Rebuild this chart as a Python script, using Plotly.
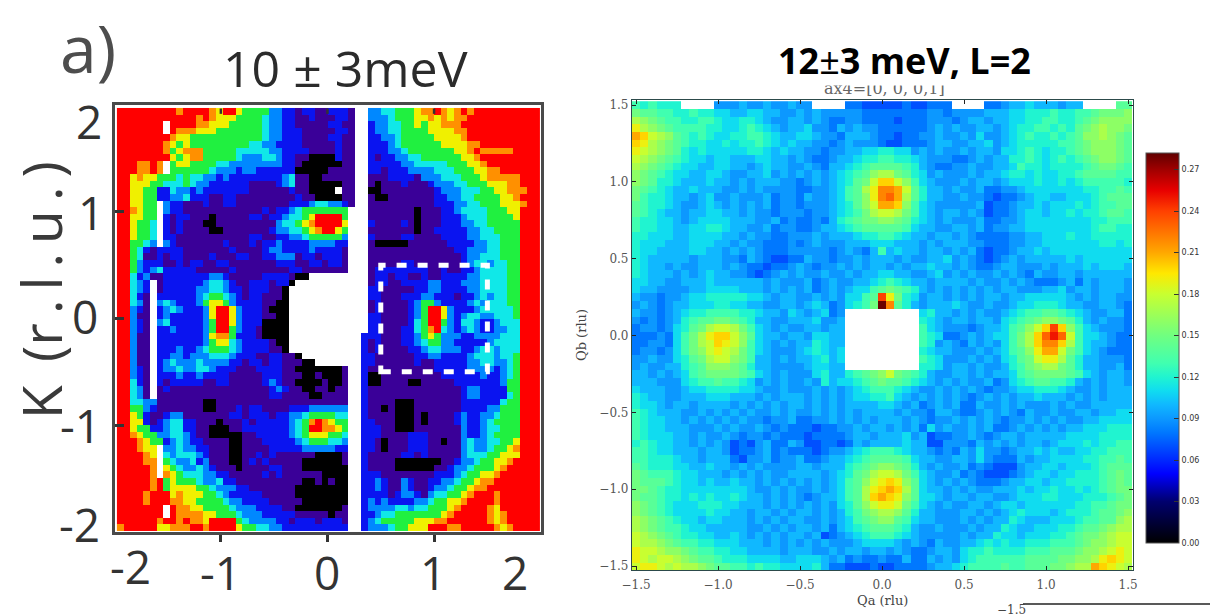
import plotly.graph_objects as go

W, H = 1210, 614

# Left panel: intensity level per cell, 0 = lowest ... 8 = saturated, "." = no data.
# Rows run from K = +2 down to K = -2, columns from H = -2 to H = +2.
LEFT_LEVELS = [
"8888888887 8888768865 5553322122 112221 .. 33 4455567787 6787888888 8888",
"8888888888 8878766655 5543322112 111221 .. 33 3455566767 6778888888 8888",
"8888888.88 8877666555 5543322111 112211 .. 23 3445565667 7788888888 8888",
"8888888.87 7766655555 5543322211 111221 .. 23 3445555666 6778888888 8888",
"8888888876 6555555555 5543322211 112211 .. 22 3345555566 6678888888 8888",
"8888888765 6555555555 4433222211 111211 .. 22 2345555556 6667788888 8888",
"8888888756 7775555544 4443322221 111211 .. 22 2334555555 5667877777 8888",
"8888888865 6775555543 3344322110 000211 .. 21 2233445555 5566788888 8888",
"8887787.56 6555544333 3333322100 000011 .. 22 2223344444 5556678888 8888",
"8887787.55 5555433323 3222222000 001111 .. 22 1222333344 4555667788 8888",
"8867665554 5443323222 2222234110 011111 .. 11 1222213334 4455567777 7888",
"8866655444 5433222222 1111234110 000011 .. 10 1112111233 3445556667 7888",
"8866552243 3232222222 1111112110 000.11 .. 00 1111111123 3344455667 7788",
"8866552233 4222112211 1111111211 000011 .. 10 0111111122 3344555566 7888",
"886655.322 1112112211 1111112223 443321 .. 11 1111111122 2334455566 6788",
"887655.322 1111111111 1121223455 55555. .. 11 1111101112 2344445556 6888",
"886655.212 2111011111 2212234456 88885. .. 11 1111101112 2234445555 6888",
"886554.212 1110011111 1111344567 88886. .. 21 1112101112 2233445555 5888",
"886554.212 1111001111 1112334456 78865. .. 11 1111101122 2223344555 5888",
"886554.221 1111111111 2211223345 55553. .. 21 1112211112 2223344455 5888",
"885543.321 1111112111 2122322223 33322. .. 10 0000111111 2222334455 5888",
"8854212222 1111111211 1123322223 22221. .. 11 1111111111 1223334455 5888",
"8854112122 1111211122 1122333122 12221. .. 11 1111111111 1123344455 5888",
"8853222112 1221122111 1111222112 21221. .. 11 1112211111 1123443445 5888",
"8853234222 2211111211 1111112211 11111. .. 12 2222222112 1122344445 5888",
"8842311222 2222332111 112222100. ...... .. 12 2122112112 2223344445 5888",
"88432.1222 2223443211 2221220... ...... .. 12 2112222332 2233344445 5888",
"88432.1222 2233443221 222110.... ...... .. 22 1111122332 2223344445 5888",
"88421.2222 2234554321 221110.... ...... .. 22 1112223322 2122343445 5888",
"88431.3432 2235665322 221100.... ...... .. 12 1111235532 2223434445 5888",
"88321.2343 2223688632 221000.... ...... .. 12 1111235886 3222344444 5888",
"88311.2322 2223688632 221100.... ...... .. 22 1111235886 3234433444 5888",
"88321.3422 2223588632 220000.... ...... .. 22 1111245885 3244322344 4888",
"88321.2232 2223588532 210000.... ...... .. 22 1112245784 3234322334 4888",
"88311.2222 2223677522 210000.... ...... .2 22 1112235653 3322333344 4888",
"88311.2222 2223566432 222100.... ...... .2 12 1112234553 3222223444 4888",
"88311.2223 2234555432 222110.... ...... .2 12 1111223443 3322344344 4888",
"88311.2233 2333444322 21122110.. ...... .2 21 1111122332 2223444344 5888",
"88311.2343 3343333221 2212211100 ...... .2 21 1111121122 2223344334 5888",
"88321.2334 3344322211 1222211000 00001. .2 11 1111111122 2223333234 5888",
"88321.2223 2232222111 1122211100 10001. .2 00 1111111112 2222232234 5888",
"88421.2122 2221122111 1123211000 01001. .2 00 1111001111 1222222235 5888",
"88431.1211 1111111111 1112321100 11011. .2 11 1111111111 1123322225 5888",
"88431.1111 1111111111 1112211110 01111. .2 11 1111111111 1123322224 5888",
"8844331111 1110011111 1111111111 11111. .2 11 1100011111 1122222245 5888",
"8855321111 1110011121 2211112223 33333. .2 11 0100011111 1122223355 5888",
"8865211233 1111111221 2221223345 55544. .2 11 1100010111 1232233455 5888",
"8866212344 2211101112 1222223457 87655. .2 21 1100010111 1232234555 5888",
"8865522344 2211000112 2222223458 87765. .2 22 1100011111 1132234455 5888",
"8876553344 3211000001 1222223456 66554. .2 22 1111222111 1132234555 5888",
"8887655234 3221111001 1122222345 55443. .2 21 0111222110 1134334455 6888",
"888766.334 3322111001 1112222233 33322. .2 21 0111222111 1134334556 7888",
"888876.434 4432111001 1212111111 00001. .2 11 1112212111 1134445566 6888",
"888877.543 3423111001 2121111100 00001. .2 11 1100000001 1233455667 8888",
"888887.654 3343211101 1112211100 00000. .2 11 1100000011 2334555678 8888",
"888887.765 4443322111 1121211111 10000. .2 22 1111111122 2345566788 8888",
"8888878565 5543342211 1111111100 10100. .2 23 2113211223 3455677888 8888",
"8888878566 6655433322 1111111000 00000. .2 23 2113211233 4556778888 8888",
"8888788867 6665543222 2211111000 00000. .2 22 2123321344 5567888788 8888",
"8888788877 6655554332 2221111100 00000. .2 32 3222233455 6678888788 8888",
"8888888.87 7665555433 3222211000 00001. .2 33 3344344555 6788887688 8888",
"8888888.87 7776655543 3322222111 11011. .2 23 4455555556 7888887678 8888",
"8888887887 8776888854 3333221222 12221. .2 34 5555566677 8888887678 8888",
"7888886677 7887888865 5443322222 22222. .2 33 3455666888 7788888767 8888",
]

# Right panel: intensity in hundredths, written in base 36 (9 = 0.09, a = 0.10, k = 0.20 ...),
# "." = no data. Rows run from Qb = +1.5 down to -1.5, columns from Qa = -1.5 to +1.5.
RIGHT_HUNDREDTHS = [
"dcdccc.... 999a99a99a 99....8877 777877888. ...889aab aaa9aa.... e",
"feeddccdcc bbaabbaa99 a9a9999988 8888889989 999aaabbcc cdccddefff g",
"hgfeddccdd cbbccba99a a9a9889988 8878889998 9aa9aabbcc ddccdefggg g",
"jhgfeddddc cbbcdcba9a ab998a9a99 8888889a9a 99aa9abccd dcdcefghgg f",
"lkihgedcdc bbccddcbaa bba998aaa9 8878899a99 a9b99abcdc cdcdegghgf e",
"kjhgfedccb bcbccdcbab aa9989a999 8778889aa9 9aab9abccc ccddefgggf e",
"jihgfecbcb bbbbccbaba a99899aabb ccbb9a9a99 a9aa9bbcdc bccdefgggf e",
"ihgfedcbba bbaaabbaa9 a9889aabcc ddccba9998 89a9aaccdc bcdcdefggf e",
"hgfedcbbaa bbaa9abaa9 9a98aabcde eeedca9889 9a99aabdcc bccccdeffe d",
"gfedcbbaab ba99aab9a9 a9a9abcdeg hhfecb9a99 9a9aabccbc bbccdeeeed d",
"gfeccbaaab aa9a9aaa99 89a9abcefi kkigdba999 a9aa9abbbc bbcbcddddd c",
"fedcbaabaa a99a9a9999 8899abdehj mmliecaa9a 99a8899abb bbbbbccdde d",
"fdccbaa9ab 99a999a899 8a99abdegj mnlhecaa99 a9987889ab baabbbcdee e",
"edccba99ab a9a9a9a899 8999abcegi llkgdba999 99a7889aab abbbcbcdde e",
"edcbaa9aab baa9a99899 9899abcdfh iihfdba9aa 9a97889abb abbcbccdee d",
"dccbba9abb bbaaa99a89 8898acdeff ggfecba9a9 99a8899abb bbbbbbccdd d",
"dccbbaabbc cbaa99a899 889aabcdee eeedbaa99a a9a899aabb bbbbbbcddc c",
"ccbbbaabbb baa9a99889 99a9aaabcc ddcbaa9aa9 a9888899aa bbbcbbcccc c",
"cbbbaaabbb aa9a998889 89a999aaab bbaaa9a9aa a9988899aa bbbbbbbccb c",
"cbbaaaabba a9a9a98889 999989a98a dabaa9aa9a 9a87889aab abbbbbbbbb b",
"cbaaaaa9aa a998a98778 8a99899a9a aa9a99aab9 a98789a9aa aaababbbbb b",
"cbaa9a99aa a9a9887889 a9899a9a9a a9a9aabaa9 a9889aa999 a9aaababbb a",
"cbaaa9a9ab aa998789a9 a99a99a9aa bbaa99ab9a 9a99a9a98a 99aa9aaaaa a",
"bbaa99aaab aaaaaa9a99 9a89a99aab cdcbaa9aaa a9a99a9a98 889a8a9aaa 9",
"baa9999aab bbbaaa9a9a 9a89a9abbd efedca9a9a 9a9a9aa999 aab9aa9aaa 9",
"a99899abbc ccccbba9aa 99a9a9bbde ojfcb9aa9a 9a9aa9aabb bbba9a9aa9 9",
"9a989aabbb ccbbaa99aa 9aba89bcdf smeca9aaab a99a99abbc ccbaa99aa9 8",
"a9989abccd dddccbaa9b a9ab89.... .....bcaa9 a9a99abcdd eedcba99aa 8",
"98989acdee ffedcaa99a aab99a.... .....cba9a a9aa9bcdef ggfeca9a99 8",
"89989bcefh iihfdba9a9 9aa9aa.... .....dba99 989aabdegi kokgdba999 8",
"88898bdfhj kkigebaa9a a9bbaa.... .....dcb88 9a9abbdfhk npnidbba98 8",
"88998bdfhi kjigdba9a9 aacbaa.... .....dc9a9 8a9a9bdfhk mmkhdbaa98 8",
"89989bdfgi jihfdba999 abcbab.... .....cbaa9 99a9abdegj llifdba988 8",
"99a99bcefh iigfdaa9a9 aabcab.... .....dcb99 9a9a9bcefi jjhecaa999 8",
"9a99aacdeg ggfecaa999 9abbaa.... .....ccb9a a9a99acdfg hhfecaa99a 8",
"aa9a9abdef fffedba9a9 99bcaacdef gifedca99a a9a9aabdef fffedba9aa 9",
"aaa999bcdd eddcb9a9a9 9a9cabbcde feedcba9a9 a99a89bcde eddca9a9aa 9",
"baaa99abbc cccbba99a9 99a9a9abcd ddcba99a9a 9a9899abbc ccba99a9aa a",
"cbaa99aaab bbaaa9a9aa a9a9a9abbc cdba9a9a9a 989a9a9aab aaa9a9a9aa a",
"cbba9aa9aa aa9a9a9a9a a9a9a9aaaa bba9a89a9a 88a99a9a99 9a9a99aaaa a",
"dcbaaa99a9 a9a9a99a9a 99a9a9a9aa aa9a998aa9 889a9a98a9 9a99aa9aab b",
"dcbbaa9a9a 9a9a99899a 8899a9a9a9 aaa9a9899a 9a9a9899a9 a9a99aabbb b",
"dcbbaaa999 a9a99a9898 8878899a9a a9a9a8b9a9 9a9a889a9a 9a9aabbbcc c",
"dcbbbaa9a9 9a98998988 8788889aa9 aaab9a7889 9a989aa9aa aaabbbbccc c",
"cdcbbaa9a9 a97879a88a 9778878a9a aaabaa7799 98a9a9a9aa 9abbbcbccd d",
"ddcbbaaa9a a97889a898 887899abcd ddcbaa9898 a9b9989aab abaabbccdd d",
"ddcccbaa9a aa8799a899 a889aabcde eeedbaa99a a9b9888a9a abbbbccdde d",
"edcccbbaab aa9a9a9999 aa9aaacdef ggfeca9a99 a8987779aa bbabbbcdee e",
"fedddcbbaa a9a9a9a99a aaa9abcefh iihfdba99a 89877789ab babbcccdef e",
"feeedcbbab aabaa9a9a9 a9a9abdegi jkjgeba9a9 a98889aabb abbccccdef e",
"ffedccbbbb bbbba99a9a 99a9abdehj klkhebaa9a 9a99aaabab bcbbcbcdef f",
"feedccbcbc bbcbaa9a9a 989aabdehk lkjgebba9a a9aa99abbb ccbbbcccde f",
"gfedcbbbcc cbbaaa9a9a 9a9a9bcegi jjifdba9a9 9aa9abbabb bbbbccddef f",
"gfedcbbbbc bbaa9aa9a9 aa9a9acdfg hhgecaa999 aa9a9abcbb babcccdeef g",
"hgfedcbbab baaa9a9a9a a99a9abdef ggedbaa999 a9a9aacbaa abbbcddeeg h",
"hgfeddcbba aaaa99a9a9 aa9a8abcde eedca99a99 9a9aacbaab bbccdeefgh h",
"ihgfedccbb aaba9a9a9a a9a789abcd ddcba99999 a9aacbbabb bccdeffghi i",
"ihhgfeddcc bbbaaa9a9a 9a9a999abb bba9a98a99 aabcbcbbcc cdddefgghi i",
"jiihggfedd ccbbaaaa9a aa99a9aa9a a9a9889aa9 bccdccccdd deeefgghij i",
"jihiihgfee dcccbbbbaa bbba9a8988 988a88a9a9 bcddddddee eeffgghjkj i",
"ijjihihhgf eeddcdccbb bbca887778 7788889aab cddddeddee effghhlkji h",
]

LEFT_TICKS = [-1, 0, 1]
RIGHT_TICKS = [-1.5, -1.0, -0.5, 0.0, 0.5, 1.0, 1.5]
COLORBAR_TICKS = [0, 0.03, 0.06, 0.09, 0.12, 0.15, 0.18, 0.21, 0.24, 0.27]
BOX_H = [0.5, 1.5]
BOX_K = [-0.5, 0.5]


def decode(rows, width, convert):
    out = []
    for row in rows:
        s = row.replace(" ", "")
        s = (s + s[-1] * width)[:width]
        out.append([None if c == "." else convert(c) for c in s])
    return out


left_z = decode(LEFT_LEVELS, 64, int)
right_z = decode(RIGHT_HUNDREDTHS, 61, lambda c: int(c, 36) / 100)

LEFT_COLORS = [
    [0 / 8, "#000000"], [1 / 8, "#3a0098"], [2 / 8, "#0a14f0"], [3 / 8, "#0088ff"],
    [4 / 8, "#10e8e8"], [5 / 8, "#20f040"], [6 / 8, "#f0f000"], [7 / 8, "#ff9000"],
    [8 / 8, "#ff0000"],
]
ZMAX = 0.282
RIGHT_COLORS = [
    [0, "#000000"], [0.03 / ZMAX, "#00006e"], [0.05 / ZMAX, "#0000ff"],
    [0.08 / ZMAX, "#0078ff"], [0.09 / ZMAX, "#0c98ff"], [0.10 / ZMAX, "#10b8ff"],
    [0.11 / ZMAX, "#10dcf0"], [0.12 / ZMAX, "#20f4d0"], [0.13 / ZMAX, "#40ffb0"],
    [0.15 / ZMAX, "#70ff80"], [0.18 / ZMAX, "#c8ff30"], [0.195 / ZMAX, "#ffe800"],
    [0.21 / ZMAX, "#ffa800"], [0.24 / ZMAX, "#ff4000"], [0.255 / ZMAX, "#e80000"],
    [0.27 / ZMAX, "#a00000"], [1, "#600000"],
]

fig = go.Figure()
fig.add_trace(go.Heatmap(
    z=left_z, x0=-1.944, dx=0.062, y0=1.944, dy=-0.062, xaxis="x", yaxis="y",
    colorscale=LEFT_COLORS, zmin=0, zmax=8, showscale=False, hoverongaps=False,
))
fig.add_trace(go.Heatmap(
    z=right_z, x0=-1.5, dx=0.05, y0=1.5, dy=-0.05, xaxis="x2", yaxis="y2",
    colorscale=RIGHT_COLORS, zmin=0, zmax=ZMAX, hoverongaps=False,
    colorbar=dict(
        x=1146 / W, xanchor="left", y=1 - 153 / H, yanchor="top", yref="paper",
        len=390 / H, lenmode="fraction", thickness=33, thicknessmode="pixels",
        xpad=0, ypad=0, outlinecolor="#555555", outlinewidth=1,
        tickmode="array", tickvals=COLORBAR_TICKS,
        ticktext=[f"{v:.2f}" for v in COLORBAR_TICKS],
        ticks="inside", ticklen=5, tickcolor="#333333",
        tickfont=dict(family="DejaVu Sans", size=8, color="#333333"),
    ),
))

SERIF = "DejaVu Serif"
SANS = "Open Sans"


def text(s, x, y, size, family=SANS, color="#333333", angle=0, **kw):
    return dict(text=s, x=x / W, y=1 - y / H, xref="paper", yref="paper", showarrow=False,
                xanchor=kw.pop("xanchor", "center"), yanchor=kw.pop("yanchor", "middle"),
                textangle=angle, font=dict(family=family, size=size, color=color), **kw)


annotations = [
    text("a)", 88, 47, 66, color="#4d4d4d"),
    text("10 ± 3meV", 345, 68, 50, color="#2b2b2b"),
    text("K\u2009 (r\u2009.\u2009l\u2009.\u2009u\u2009.\u2009)", 40, 290, 55, color="#3a3a3a", angle=-90),
    text("2", 89, 121, 46), text("1", 91, 212, 46), text("0", 85, 316, 46),
    text("-1", 80, 425, 46), text("-2", 79, 524, 46),
    text("-2", 130, 566, 46), text("-1", 220, 572, 46), text("0", 327, 572, 46),
    text("1", 433, 572, 46), text("2", 515, 572, 46),
    text("ax4=[0, 0, 0,1]", 884, 88, 16, family=SERIF, color="#666666"),
    text("<b>12</b>±<b>3 meV, L=2</b>", 904, 86, 36, color="#000000",
         yanchor="bottom", bgcolor="#ffffff", borderpad=0),
    text("Qa (rlu)", 882, 600, 13, family=SERIF, color="#444444"),
    text("Qb (rlu)", 581, 335, 13, family=SERIF, color="#444444", angle=-90),
    text("−1.5", 1011, 610, 12, family=SERIF, color="#444444"),
]

shapes = [
    dict(type="rect", x0=BOX_H[0], x1=BOX_H[1], y0=BOX_K[0], y1=BOX_K[1], xref="x", yref="y",
         line=dict(color="#ffffff", width=5, dash="10px,11px"), layer="above"),
    dict(type="line", x0=1023 / W, x1=1, y0=1 - 604 / H, y1=1 - 604 / H, xref="paper",
         yref="paper", line=dict(color="#222222", width=1.5)),
]
for v in LEFT_TICKS:
    shapes.append(dict(type="line", x0=v, x1=v, y0=1.97, y1=1.92, xref="x", yref="y",
                       line=dict(color="#333333", width=2.5)))

fig.update_layout(
    template="none",
    width=W, height=H, margin=dict(l=0, r=0, t=0, b=0, autoexpand=False),
    paper_bgcolor="#ffffff", plot_bgcolor="#ffffff", showlegend=False,
    annotations=annotations, shapes=shapes,
    xaxis=dict(domain=[115 / W, 541 / W], range=[-1.993, 2.003], showgrid=False, zeroline=False,
               automargin=False, showline=True, mirror=True, linecolor="#4a4a4a", linewidth=3,
               tickmode="array", tickvals=LEFT_TICKS, showticklabels=False,
               ticks="outside", ticklen=7, tickwidth=2.5, tickcolor="#333333"),
    yaxis=dict(domain=[1 - 532 / H, 1 - 105 / H], range=[-2.003, 2.003], showgrid=False,
               zeroline=False, automargin=False, showline=True, mirror=True,
               linecolor="#4a4a4a", linewidth=3,
               tickmode="array", tickvals=LEFT_TICKS, showticklabels=False,
               ticks="inside", ticklen=9, tickwidth=2.5, tickcolor="#333333"),
    xaxis2=dict(domain=[632 / W, 1133 / W], range=[-1.525, 1.53], anchor="y2", automargin=False,
                showgrid=False, zeroline=False, showline=True, mirror="ticks",
                linecolor="#2c4a4a", linewidth=1.2, tickmode="array", tickvals=RIGHT_TICKS,
                tickformat=".1f", ticks="inside", ticklen=4, tickcolor="#222222",
                ticklabelstandoff=3,
                tickfont=dict(family=SERIF, size=12, color="#555555")),
    yaxis2=dict(domain=[1 - 570 / H, 1 - 100 / H], range=[-1.526, 1.533], anchor="x2",
                automargin=False,
                showgrid=False, zeroline=False, showline=True, mirror="ticks",
                linecolor="#2c4a4a", linewidth=1.2, tickmode="array", tickvals=RIGHT_TICKS,
                tickformat=".1f", ticks="inside", ticklen=4, tickcolor="#222222",
                tickfont=dict(family=SERIF, size=12, color="#555555")),
)

fig.write_html("out.html", config={"displayModeBar": False},
               post_script="document.body.style.margin='0';document.body.style.overflow='hidden';")
